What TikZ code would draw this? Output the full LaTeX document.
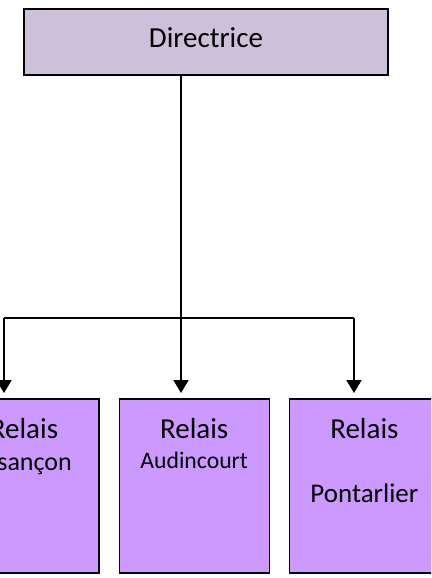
\documentclass[tikz,border=0pt]{standalone}
\usepackage{fontspec}
\setmainfont{Carlito}
\usetikzlibrary{arrows.meta,positioning}

\definecolor{dirfill}{HTML}{CCC0DA}
\definecolor{relaisfill}{HTML}{CC99FF}

\tikzset{
	dirbox/.style={draw=black, line width=1.5pt, fill=dirfill,
		minimum width=364pt, minimum height=66pt, inner sep=0pt,
		text depth=8pt, font=\fontsize{29}{34}\selectfont},
	relaisbox/.style={draw=black, line width=1.2pt, fill=relaisfill,
		minimum width=150pt, minimum height=174pt, inner sep=0pt},
	relaistxt/.style={anchor=base, inner sep=0pt},
	trunk/.style={black, line width=1.3pt},
	branch/.style={black, line width=2pt, -{Triangle[width=15pt,length=13pt]}}
}

\begin{document}
\begin{tikzpicture}[x=1pt, y=-1pt]
	\clip (0,0) rectangle (431,578);
	\node[dirbox] (dir) at (206,42) {Directrice};
	% relais
	\node[relaisbox] (besancon) at (24,486) {};
	\node[relaisbox, right=19pt of besancon] (audincourt) {};
	\node[relaisbox, right=19pt of audincourt] (pontarlier) {};
	\foreach \r in {besancon, audincourt, pontarlier}
		\node[relaistxt, font=\fontsize{29}{34}\selectfont] (\r-title) at ([yshift=-40pt]\r.north) {Relais};
	\node[relaistxt, font=\fontsize{26}{31}\selectfont] (besancon-name) at ([xshift=-3pt, yshift=-72pt]besancon.north) {Besançon};
	\node[relaistxt, font=\fontsize{23.7}{28}\selectfont] (audincourt-name) at ([yshift=-70pt]audincourt.north) {Audincourt};
	\node[relaistxt, font=\fontsize{27}{32}\selectfont] (pontarlier-name) at ([yshift=-104pt]pontarlier.north) {Pontarlier};
	% fleches
	\coordinate (split) at (181,318);
	\draw[trunk] (dir.south -| split) -- (split);
	\foreach \tip/\x in {tipB/4, tipA/181, tipP/354} {
		\coordinate (\tip) at (\x,393);
		\draw[branch] (split -| \tip) -- (\tip);
	}
	\draw[trunk] (split -| tipB) -- (split -| tipP);
\end{tikzpicture}
\end{document}
